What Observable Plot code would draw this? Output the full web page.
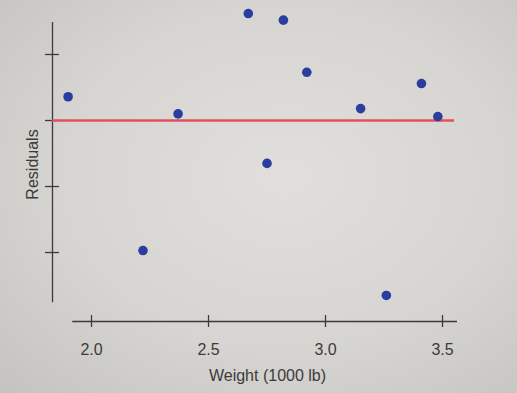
<!DOCTYPE html>
<html>
<head>
<meta charset="utf-8">
<script src="https://cdn.jsdelivr.net/npm/d3@7"></script>
<script src="https://cdn.jsdelivr.net/npm/@observablehq/plot@0.6"></script>
<style>
  html, body { margin: 0; padding: 0; }
  body {
    width: 517px; height: 393px; overflow: hidden;
    background: radial-gradient(ellipse at 55% 45%, #e0dfdb 0%, #d6d5d1 55%, #c4c3bf 100%);
    font-family: "Liberation Sans", Arial, sans-serif;
  }
</style>
</head>
<body>
<div id="chart"></div>
<script>
// Data
const weights   = [1.90, 2.22, 2.37, 2.67, 2.75, 2.82, 2.92, 3.15, 3.26, 3.41, 3.48];
const residuals = [0.36, -1.97, 0.10, 1.62, -0.65, 1.52, 0.73, 0.18, -2.65, 0.56, 0.06];

const xTicks = [2.0, 2.5, 3.0, 3.5];
const yTicks = [1, 0, -1, -2];          // unlabeled tick marks
const xLabel = "Weight (1000 lb)";
const yLabel = "Residuals";

// axis extents (in data units)
const xDomain = [1.8333, 3.564];
const yDomain = [-3.045, 1.818];
const xAxisExtent = [1.92, 3.564];
const yAxisExtent = [-2.76, 1.485];
const zeroLineEnd = 3.551;

const data = weights.map((w, i) => ({weight: w, residual: residuals[i]}));

const ink = "#3b3b3b";

const chart = Plot.plot({
  width: 517,
  height: 393,
  marginLeft: 52,
  marginRight: 60,
  marginTop: 0,
  marginBottom: 72,
  style: {background: "transparent", fontFamily: "'Liberation Sans', Arial, sans-serif", overflow: "visible"},
  x: {domain: xDomain, axis: null},
  y: {domain: yDomain, axis: null},
  marks: [
    // y axis line
    Plot.ruleX([xDomain[0]], {y1: yAxisExtent[0], y2: yAxisExtent[1], stroke: ink, strokeWidth: 1.3}),
    // x axis line
    Plot.ruleY([yDomain[0]], {x1: xAxisExtent[0], x2: xAxisExtent[1], stroke: ink, strokeWidth: 1.3}),
    // y ticks (crossing)
    Plot.ruleY(yTicks, {y: d => d, x1: xDomain[0], x2: xDomain[0], insetLeft: -7, insetRight: -7, stroke: ink, strokeWidth: 1.3}),
    // x ticks (crossing)
    Plot.ruleX(xTicks, {x: d => d, y1: yDomain[0], y2: yDomain[0], insetTop: -6, insetBottom: -6, stroke: ink, strokeWidth: 1.3}),
    // x tick labels
    Plot.text(xTicks, {x: d => d, frameAnchor: "bottom", dy: 33, lineAnchor: "bottom", text: d => d3.format(".1f")(d), fontSize: 16, fill: ink}),
    // axis labels
    Plot.text([xLabel], {frameAnchor: "bottom", dx: 12.5, dy: 59, lineAnchor: "bottom", text: d => d, fontSize: 16, fill: ink}),
    Plot.text([yLabel], {frameAnchor: "left", rotate: -90, dx: -15, dy: 3.5, lineAnchor: "bottom", textAnchor: "middle", text: d => d, fontSize: 16, fill: ink}),
    // zero line
    Plot.ruleY([0], {x1: xDomain[0], x2: zeroLineEnd, stroke: "#e2505e", strokeWidth: 2.5}),
    // residual points
    Plot.dot(data, {x: "weight", y: "residual", r: 4.8, fill: "#2b3d9f", stroke: "none"})
  ]
});

document.getElementById("chart").appendChild(chart);
</script>
</body>
</html>
